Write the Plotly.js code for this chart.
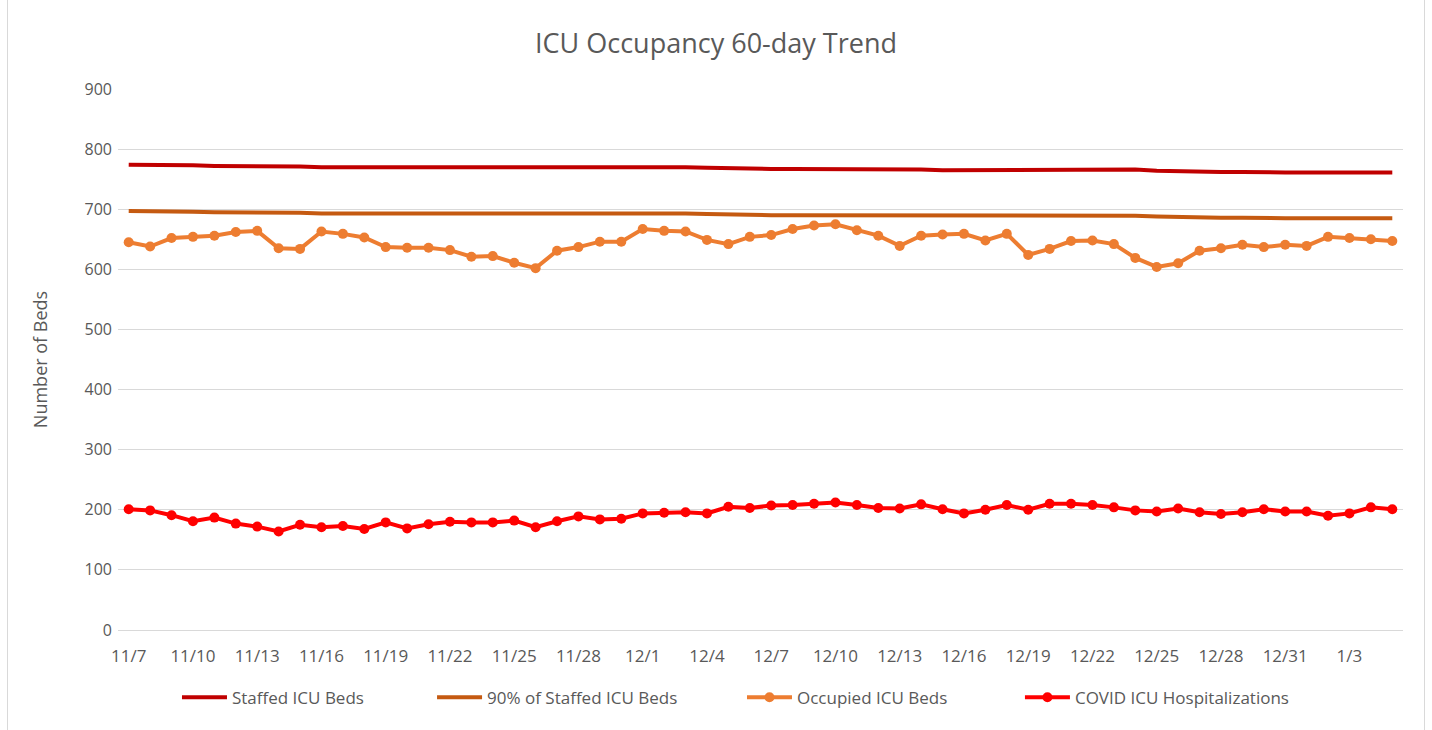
<!DOCTYPE html>
<html>
<head>
<meta charset="utf-8">
<script src="https://cdn.plot.ly/plotly-3.0.1.min.js"></script>
<style>
  html, body { margin: 0; padding: 0; background: #ffffff; }
  #chart { position: absolute; left: 0; top: 0; width: 1432px; height: 730px; }
  #frame { position: absolute; left: 7px; top: -1px; width: 1416px; height: 732px; border: 1px solid #d9d9d9; pointer-events: none; }
</style>
</head>
<body>
<div id="chart"></div>
<div id="frame"></div>
<script>
// Dates (60 days)
const dates = [
  "11/7","11/8","11/9","11/10","11/11","11/12","11/13","11/14","11/15","11/16",
  "11/17","11/18","11/19","11/20","11/21","11/22","11/23","11/24","11/25","11/26",
  "11/27","11/28","11/29","11/30","12/1","12/2","12/3","12/4","12/5","12/6",
  "12/7","12/8","12/9","12/10","12/11","12/12","12/13","12/14","12/15","12/16",
  "12/17","12/18","12/19","12/20","12/21","12/22","12/23","12/24","12/25","12/26",
  "12/27","12/28","12/29","12/30","12/31","1/1","1/2","1/3","1/4","1/5"
];

const tickLabels = ["11/7","11/10","11/13","11/16","11/19","11/22","11/25","11/28","12/1","12/4",
  "12/7","12/10","12/13","12/16","12/19","12/22","12/25","12/28","12/31","1/3"];

const staffedBeds = [
  774,774,773,773,772,772,771,771,771,770,
  770,770,770,771,771,771,771,771,770,770,
  770,770,770,770,771,771,770,769,768,767,
  767,767,767,766,766,766,766,766,765,765,
  765,765,765,765,765,765,766,766,764,763,
  763,762,762,761,761,761,761,761,761,761
];

const ninetyPct = [
  697,697,696,696,695,695,694,694,694,693,
  693,693,693,694,694,694,694,694,693,693,
  693,693,693,693,694,694,693,692,691,690,
  690,690,690,689,689,689,689,689,689,689,
  689,689,689,689,689,689,689,689,688,687,
  687,686,686,685,685,685,685,685,685,685
];

const occupiedBeds = [
  645,638,652,654,656,662,664,635,634,663,
  659,653,637,636,636,632,621,622,611,602,
  631,637,646,646,667,664,663,649,642,654,
  657,667,673,675,665,656,639,656,658,659,
  648,659,624,634,647,648,642,619,604,610,
  631,635,641,637,641,639,654,652,650,647
];

const covidICU = [
  201,199,191,181,187,177,172,164,175,171,
  173,168,179,169,176,180,179,179,182,171,
  181,189,184,185,194,195,196,194,205,203,
  207,208,210,212,208,203,202,209,201,194,
  200,208,200,210,210,208,204,199,197,202,
  196,193,196,201,197,197,190,194,204,201
];

const textColor = "#595959";
const fontFam = "'Open Sans', 'Liberation Sans', sans-serif";

const traces = [
  { x: dates, y: staffedBeds, name: "Staffed ICU Beds", type: "scatter", mode: "lines",
    line: { color: "#C00000", width: 4 }, legend: "legend" },
  { x: dates, y: ninetyPct, name: "90% of Staffed ICU Beds", type: "scatter", mode: "lines",
    line: { color: "#C55A11", width: 4 }, legend: "legend2" },
  { x: dates, y: occupiedBeds, name: "Occupied ICU Beds", type: "scatter", mode: "lines+markers",
    line: { color: "#ED7D31", width: 4 }, marker: { color: "#ED7D31", size: 10 }, legend: "legend3" },
  { x: dates, y: covidICU, name: "COVID ICU Hospitalizations", type: "scatter", mode: "lines+markers",
    line: { color: "#FF0000", width: 4 }, marker: { color: "#FF0000", size: 10 }, legend: "legend4" }
];

function legendAt(xp) {
  return {
    orientation: "h", x: xp, xanchor: "left", y: -0.125, yanchor: "middle",
    font: { size: 17, color: textColor, family: fontFam },
    itemwidth: 45, bgcolor: "rgba(0,0,0,0)"
  };
}

const layout = {
  width: 1432, height: 730,
  margin: { l: 118, r: 29, t: 89, b: 100 },
  paper_bgcolor: "#ffffff", plot_bgcolor: "#ffffff",
  font: { family: fontFam, color: textColor, size: 16 },
  title: { text: "ICU Occupancy 60-day Trend", font: { family: fontFam, size: 27, color: textColor },
    x: 0.5, xanchor: "center", y: 0.94, yanchor: "middle" },
  xaxis: {
    type: "category", categoryorder: "array", categoryarray: dates,
    tickmode: "array", tickvals: tickLabels, ticktext: tickLabels,
    range: [-0.5, 59.5], showgrid: false, zeroline: false, showline: false,
    ticks: "", ticklabelstandoff: 14,
    tickfont: { size: 17, color: textColor, family: fontFam }
  },
  yaxis: {
    range: [0, 900], dtick: 100, showgrid: true, gridcolor: "#d9d9d9", gridwidth: 1,
    zeroline: true, zerolinecolor: "#d9d9d9", zerolinewidth: 1, showline: false, ticks: "",
    ticklabelstandoff: 5,
    tickfont: { size: 16, color: textColor, family: fontFam },
    title: { text: "Number of Beds", font: { size: 18, color: textColor, family: fontFam }, standoff: 32 }
  },
  showlegend: true,
  legend: legendAt(0.0459),
  legend2: legendAt(0.2444),
  legend3: legendAt(0.4856),
  legend4: legendAt(0.7019),
  hovermode: false
};

Plotly.newPlot("chart", traces, layout, { displayModeBar: false, staticPlot: true });
</script>
</body>
</html>
